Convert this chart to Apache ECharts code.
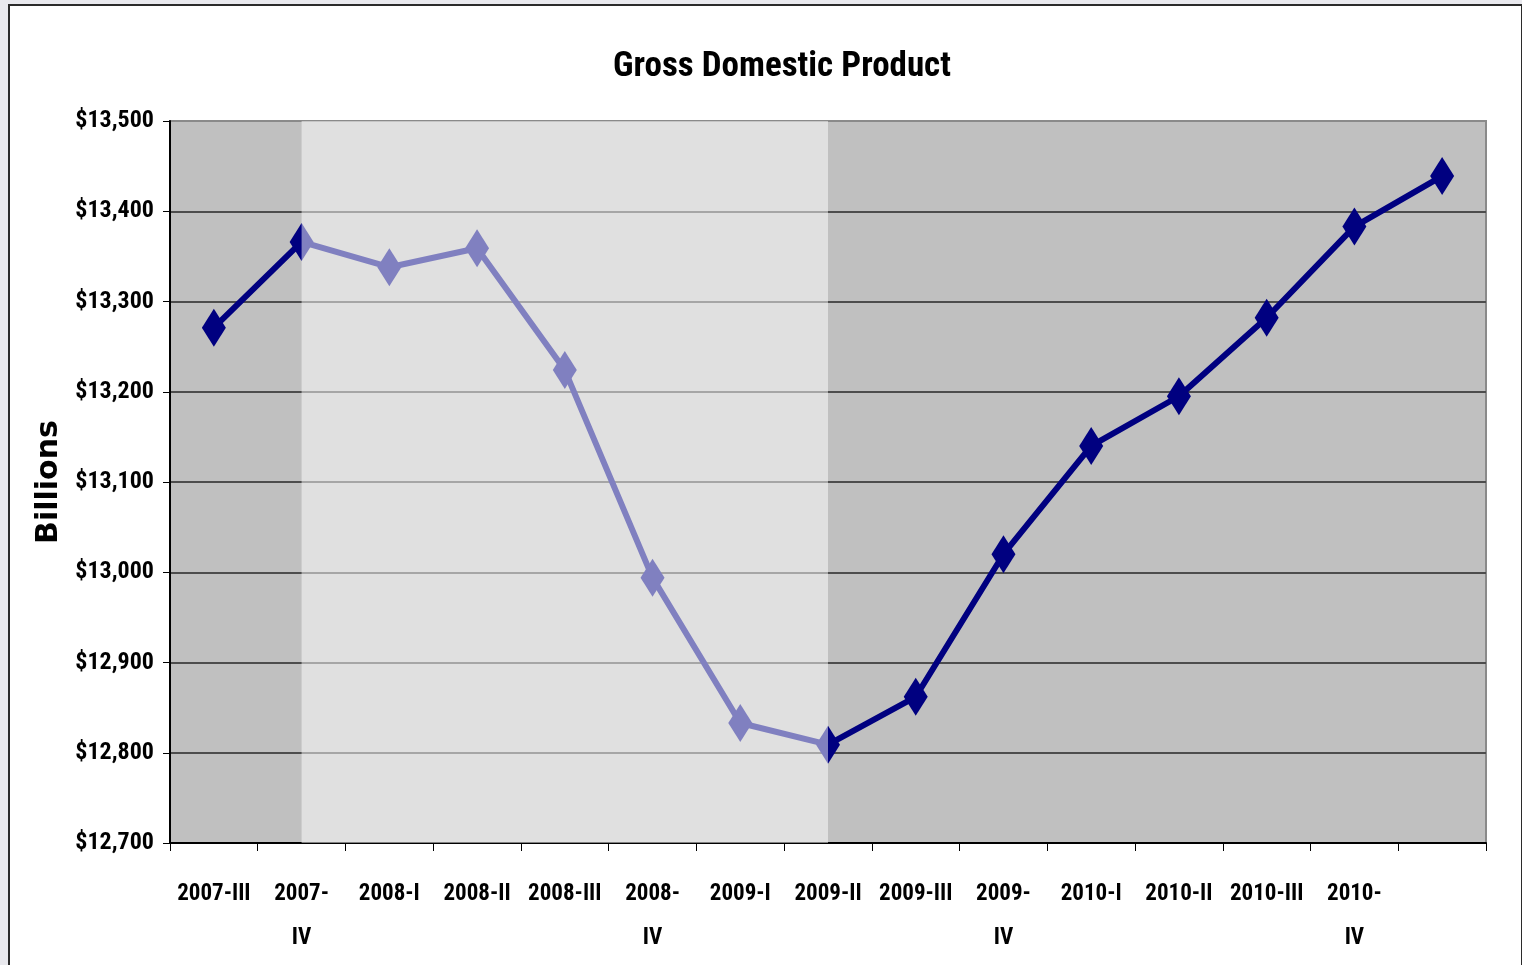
<!DOCTYPE html>
<html lang="en">
<head>
<meta charset="UTF-8">
<title>Gross Domestic Product</title>
<script src="https://cdn.jsdelivr.net/npm/echarts@6/dist/echarts.min.js"></script>
<style>
  html, body { margin: 0; padding: 0; width: 1522px; height: 965px; overflow: hidden; background: #e9e9ee; }
  /* white page frame behind the chart */
  #frame { position: absolute; left: 8px; top: 4px; width: 1511px; height: 1000px; border: 2px solid #2b2b2b; background: #fff; }
  #chart { position: absolute; left: 0; top: 0; width: 1522px; height: 965px; }
</style>
</head>
<body>
<div id="frame"></div>
<div id="chart"></div>
<script>
// quarters (last point has no label in the original)
var quarters = ['2007-III', '2007-IV', '2008-I', '2008-II', '2008-III', '2008-IV',
                '2009-I', '2009-II', '2009-III', '2009-IV', '2010-I', '2010-II',
                '2010-III', '2010-IV', ''];
// real GDP, billions
var gdp = [13271, 13366, 13338, 13359, 13224, 12994, 12833, 12809,
           12862, 13020, 13140, 13195, 13282, 13383, 13439];
// recession shading, start and end quarter
var recession = ['2007-IV', '2009-II'];
var yMin = 12700, yMax = 13500, yStep = 100;

// condensed bold, close to Arial Narrow
var narrow = '"Roboto Condensed", "Liberation Sans", Arial, sans-serif';

var chart = echarts.init(document.getElementById('chart'));

var option = {
    animation: false,
    backgroundColor: 'transparent',
    title: {
        text: 'Gross Domestic Product',
        left: 777,
        textAlign: 'center',
        top: 45,
        textStyle: { fontFamily: narrow, fontWeight: 'bold', fontSize: 35, color: '#000' }
    },
    grid: {
        left: 170, right: 36, top: 121, bottom: 122,
        show: true,
        backgroundColor: '#c0c0c0',
        borderColor: '#8a8a8a',
        borderWidth: 2
    },
    xAxis: {
        type: 'category',
        data: quarters,
        boundaryGap: true,
        axisLine: { lineStyle: { color: '#000', width: 2 } },
        axisTick: { show: true, length: 8, lineStyle: { color: '#000', width: 1 } },
        axisLabel: {
            interval: 0,
            margin: 29,
            lineHeight: 44,
            color: '#000',
            fontFamily: narrow,
            fontWeight: 'bold',
            fontSize: 23,
            formatter: function (v) {
                // Excel wrapped the "-IV" labels onto two lines
                return /-IV$/.test(v) ? v.replace('-', '-\n') : v;
            }
        },
        splitLine: { show: false }
    },
    yAxis: {
        type: 'value',
        min: yMin,
        max: yMax,
        interval: yStep,
        name: 'Billions',
        nameLocation: 'middle',
        nameRotate: 90,
        nameGap: 103,
        nameTextStyle: { fontFamily: '"DejaVu Sans", sans-serif', fontWeight: 'bold', fontSize: 30, color: '#000' },
        axisLine: { show: true, lineStyle: { color: '#000', width: 2 } },
        axisTick: { show: true, length: 7, lineStyle: { color: '#000', width: 1 } },
        axisLabel: {
            margin: 16,
            color: '#000',
            fontFamily: narrow,
            fontWeight: 'bold',
            fontSize: 24,
            formatter: function (v) { return '$' + v.toLocaleString('en-US'); }
        },
        splitLine: {
            show: true,
            lineStyle: {
                color: ['#000', '#4d4d4d', '#4d4d4d', '#4d4d4d', '#4d4d4d',
                        '#4d4d4d', '#4d4d4d', '#4d4d4d', '#8a8a8a'],
                width: 2
            }
        }
    },
    series: [
        {
            name: 'GDP',
            type: 'line',
            data: gdp,
            z: 2,
            symbol: 'diamond',
            symbolSize: [24, 38],
            lineStyle: { color: '#000080', width: 6 },
            itemStyle: { color: '#000080', borderWidth: 0 }
        },
        {
            // semi transparent white layer over the recession, drawn above the line
            name: 'Recession',
            type: 'line',
            data: [],
            z: 10,
            silent: true,
            markArea: {
                silent: true,
                z: 10,
                itemStyle: { color: 'rgba(255,255,255,0.5)' },
                data: [[{ xAxis: recession[0] }, { xAxis: recession[1] }]]
            }
        }
    ]
};

chart.setOption(option);
</script>
</body>
</html>
